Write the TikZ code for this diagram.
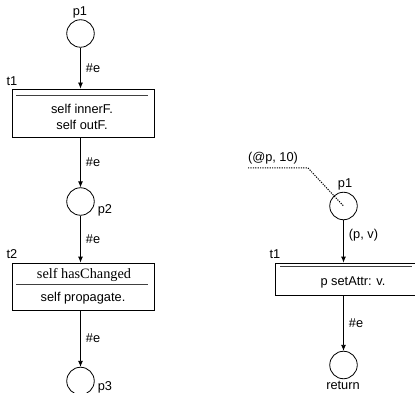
\documentclass[tikz,border=0pt]{standalone}
\usepackage{fontspec}
\setmainfont{Liberation Sans}
\newfontfamily\serifname{Liberation Serif}
\usetikzlibrary{arrows.meta}
\begin{document}
\begin{tikzpicture}[x=1pt,y=-1pt,
  line width=0.8pt,
  place/.style={circle, draw, minimum size=27.5pt, inner sep=0pt},
  trans/.style={rectangle, draw, inner sep=0pt},
  lbl/.style={font=\fontsize{12.8}{15}\selectfont, inner sep=0pt},
  slbl/.style={font=\serifname\fontsize{14.3}{16}\selectfont, inner sep=0pt},
  arc/.style={-{Latex[length=6pt,width=5pt]}},
  guard/.style={line width=0.8pt, draw=black!75}]
\clip (0,0) rectangle (415,393);
\useasboundingbox (0,0) rectangle (415,393);
% left net
\node[place] (p1) at (80.5,33.5) {};
\node[lbl] (p1l) at (80,12) {p1};
\node[trans, minimum width=142pt, minimum height=48pt] (t1) at (83,113) {};
\node[lbl] (t1l) at (12,81) {t1};
\draw[guard] (16,95) -- (148,95);
\node[lbl] (t1a) at (82,109) {self innerF.};
\node[lbl] (t1b) at (82,125) {self outF.};
\draw[arc] (p1.south) -- (p1.south |- t1.north) node[lbl, midway, right=5pt] (e1) {\#e};
\node[place] (p2) at (80.5,201.5) {};
\node[lbl] (p2l) at (105,210) {p2};
\draw[arc] (t1.south -| p2) -- (p2.north) node[lbl, midway, right=5pt] (e2) {\#e};
\node[trans, minimum width=142pt, minimum height=47pt] (t2) at (83,286.5) {};
\node[lbl] (t2l) at (12,254) {t2};
\draw[guard] (16,284) -- (148,284);
\node[slbl] (t2a) at (84,275) {self hasChanged};
\node[lbl] (t2b) at (83,298) {self propagate.};
\draw[arc] (p2.south) -- (p2.south |- t2.north) node[lbl, midway, right=5pt] (e3) {\#e};
\node[place] (p3) at (80.5,381) {};
\node[lbl] (p3l) at (105,387) {p3};
\draw[arc] (t2.south -| p3) -- (p3.north) node[lbl, midway, right=5pt] (e4) {\#e};
% right net
\node[place] (q1) at (343.5,206) {};
\node[lbl] (q1l) at (345,184) {p1};
\node[lbl] (init) at (273,158) {(@p, 10)};
\coordinate (d0) at (248,168);
\coordinate (d1) at (308,168);
\draw[line width=1pt, dash pattern=on 1.2pt off 1.2pt] (d0) -- (d1) -- (q1.center);
\node[trans, minimum width=150pt, minimum height=32pt] (u1) at (350,279) {};
\node[lbl] (u1l) at (275,254) {t1};
\draw[guard] (280,266) -- (412,266);
\node[lbl] (u1a) at (353,282) {p setAttr: v.};
\draw[arc] (q1.south) -- (q1.south |- u1.north) node[lbl, pos=0.35, right=5pt] (pv) {(p, v)};
\node[place] (ret) at (343.5,365) {};
\node[lbl] (retl) at (343,385.5) {return};
\draw[arc] (u1.south -| ret) -- (ret.north) node[lbl, midway, right=5pt] (e5) {\#e};
\end{tikzpicture}
\end{document}
